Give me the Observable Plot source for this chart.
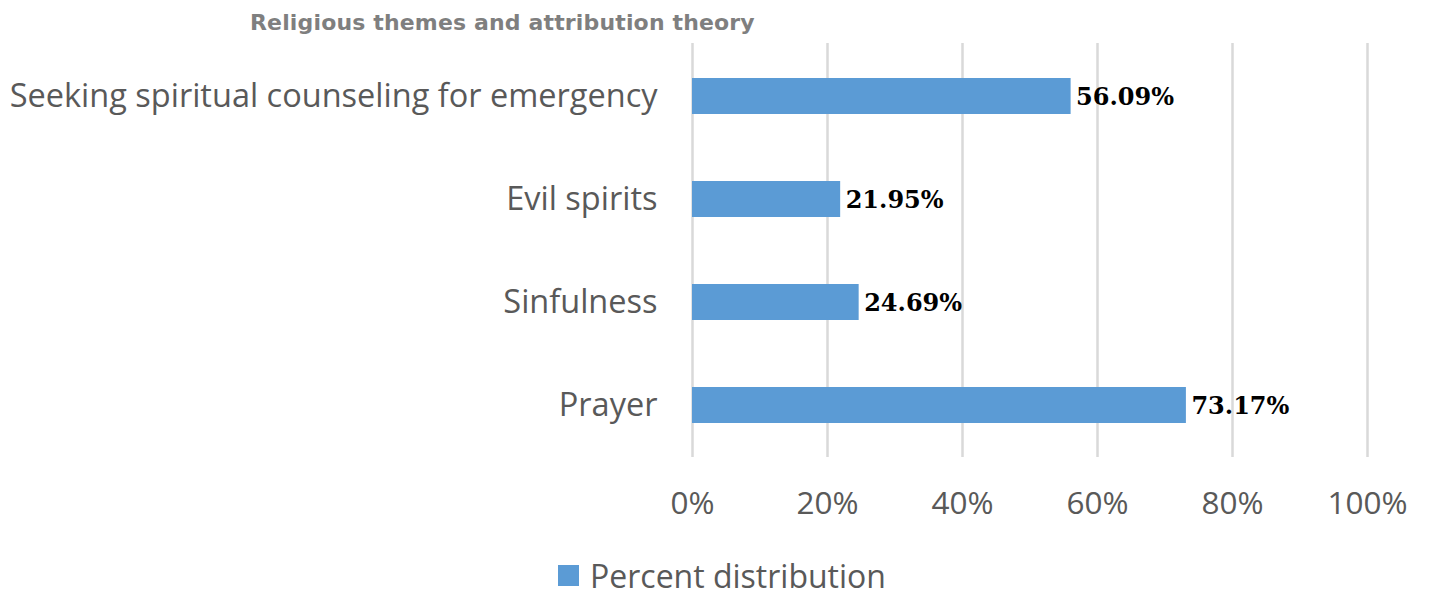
<!DOCTYPE html>
<html>
<head>
<meta charset="utf-8">
<script src="https://cdn.jsdelivr.net/npm/d3@7"></script>
<script src="https://cdn.jsdelivr.net/npm/@observablehq/plot@0.6"></script>
<style>
  html, body { margin: 0; padding: 0; background: #fff; width: 1429px; height: 597px; overflow: hidden; }
  #title { height: 40px; line-height: 46px; padding-left: 250px; font-family: "DejaVu Sans", sans-serif; font-weight: bold; font-size: 22px; letter-spacing: 0.15px; color: #7f7f7f; white-space: nowrap; }
  #legend { height: 52px; display: flex; align-items: center; padding-left: 558px; padding-top: 9px; box-sizing: border-box; font-family: "Open Sans", sans-serif; font-size: 32px; color: #595959; }
  #legend .sw { width: 21px; height: 21px; background: #5b9bd5; margin-right: 11px; }
</style>
</head>
<body>
<div id="title">Religious themes and attribution theory</div>
<div id="chart"></div>
<div id="legend"><span class="sw"></span><span>Percent distribution</span></div>
<script>
const categories = ["Seeking spiritual counseling for emergency", "Evil spirits", "Sinfulness", "Prayer"];
const values = [56.09, 21.95, 24.69, 73.17];
const labels = ["56.09%", "21.95%", "24.69%", "73.17%"];
const xTicks = [0, 20, 40, 60, 80, 100];
const seriesName = "Percent distribution";

const data = categories.map((c, i) => ({category: c, value: values[i], label: labels[i], series: seriesName}));

const chart = Plot.plot({
  width: 1429,
  height: 505,
  marginLeft: 692,
  marginRight: 62,
  marginTop: 3,
  marginBottom: 88,
  style: {fontFamily: "'Open Sans', sans-serif", background: "#fff"},
  x: {domain: [0, 100], ticks: xTicks, tickFormat: d => d + "%", label: null},
  y: {domain: categories, paddingInner: 0.652, paddingOuter: 0.326, label: null},
  marks: [
    Plot.ruleX(xTicks, {stroke: "#d9d9d9", strokeWidth: 2.5}),
    Plot.barX(data, {x: "value", y: "category", fill: "#5b9bd5"}),
    Plot.text(data, {x: "value", y: "category", text: "label", textAnchor: "start", dx: 5, dy: 1, fontWeight: "bold", fontSize: 24, fontFamily: "'DejaVu Serif', serif", fill: "#000"}),
    Plot.axisX({ticks: xTicks, tickFormat: d => d + "%", tickSize: 0, tickPadding: 34, fontSize: 31.5, fill: "#595959", label: null}),
    Plot.axisY({tickSize: 0, tickPadding: 35, fontSize: 32.5, fill: "#595959", label: null})
  ]
});
document.getElementById("chart").appendChild(chart);
</script>
</body>
</html>
